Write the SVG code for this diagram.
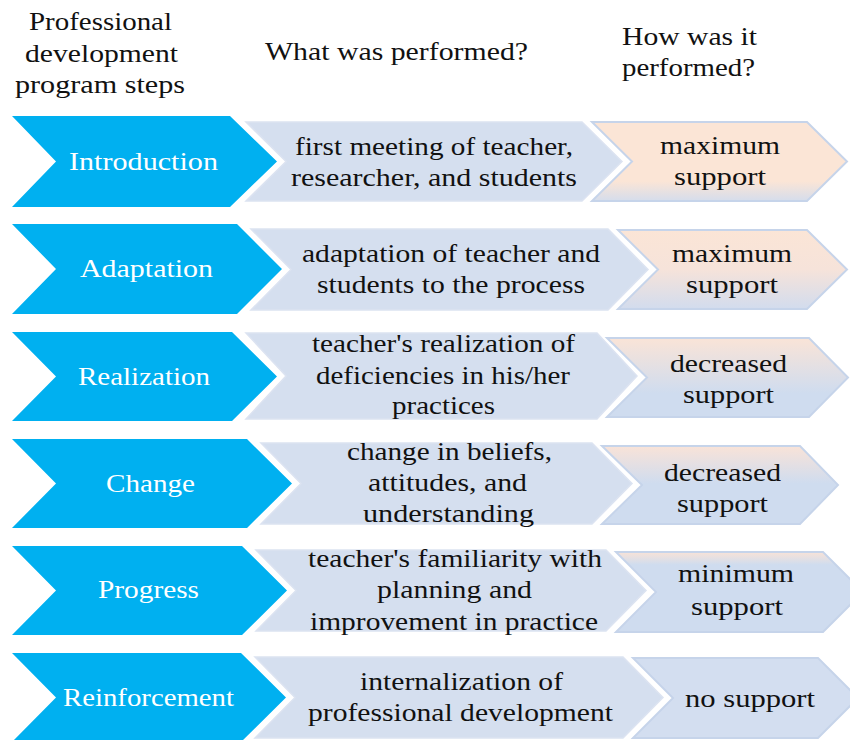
<svg xmlns="http://www.w3.org/2000/svg" width="850" height="740" viewBox="0 0 850 740">
  <defs>
    <!-- support level fills: peach fades to blue as support decreases -->
    <linearGradient id="sup1" x1="0" y1="0" x2="0" y2="1">
      <stop offset="0" stop-color="#fbe5d6"/>
      <stop offset="0.75" stop-color="#fbe5d6"/>
      <stop offset="1" stop-color="#d5ddec"/>
    </linearGradient>
    <linearGradient id="sup2" x1="0" y1="0" x2="0" y2="1">
      <stop offset="0" stop-color="#fbe5d6"/>
      <stop offset="0.5" stop-color="#f6e3da"/>
      <stop offset="1" stop-color="#d2dcee"/>
    </linearGradient>
    <linearGradient id="sup3" x1="0" y1="0" x2="0" y2="1">
      <stop offset="0" stop-color="#fae4d7"/>
      <stop offset="0.7" stop-color="#cfdcef"/>
    </linearGradient>
    <linearGradient id="sup4" x1="0" y1="0" x2="0" y2="1">
      <stop offset="0" stop-color="#f9e3d8"/>
      <stop offset="0.48" stop-color="#cfdcef"/>
    </linearGradient>
    <linearGradient id="sup5" x1="0" y1="0" x2="0" y2="1">
      <stop offset="0" stop-color="#f9e3d7"/>
      <stop offset="0.16" stop-color="#cfdcef"/>
    </linearGradient>
  </defs>
  <style>
    .step { fill: #00b0f0; }
    .task { fill: #d5dfef; stroke: #dce3f1; stroke-width: 1.5; }
    .sup  { stroke: #c6d4ea; stroke-width: 2; }
    text  { font-family: "Liberation Serif", "Times New Roman", serif; font-size: 26px; }
    .w { fill: #ffffff; }
    .k { fill: #111111; }
  </style>

  <rect width="850" height="740" fill="#ffffff"/>

  <!-- column headings -->
  <g id="headings">
    <text class="k" x="29" y="30" textLength="143" lengthAdjust="spacingAndGlyphs">Professional</text>
    <text class="k" x="25" y="62" textLength="153" lengthAdjust="spacingAndGlyphs">development</text>
    <text class="k" x="15" y="93" textLength="170" lengthAdjust="spacingAndGlyphs">program steps</text>
    <text class="k" x="265" y="60" textLength="263" lengthAdjust="spacingAndGlyphs">What was performed?</text>
    <text class="k" x="622" y="45" textLength="135" lengthAdjust="spacingAndGlyphs">How was it</text>
    <text class="k" x="622" y="76" textLength="133" lengthAdjust="spacingAndGlyphs">performed?</text>
  </g>

  <!-- row 1 -->
  <g id="step-introduction">
    <path class="step" d="M12,116 H230 L277,161.5 L230,207 H12 L56,161.5 Z"/>
    <text class="w" x="69" y="170" textLength="149" lengthAdjust="spacingAndGlyphs">Introduction</text>
  </g>
  <g id="task-introduction">
    <path class="task" d="M246,122 H582 L622,161.5 L582,201 H246 L286,161.5 Z"/>
    <text class="k" x="295" y="155" textLength="278" lengthAdjust="spacingAndGlyphs">first meeting of teacher,</text>
    <text class="k" x="291" y="186" textLength="286" lengthAdjust="spacingAndGlyphs">researcher, and students</text>
  </g>
  <g id="support-introduction">
    <path class="sup" fill="url(#sup1)" d="M592,122 H807 L847,161.5 L807,201 H592 L632,161.5 Z"/>
    <text class="k" x="660" y="154" textLength="120" lengthAdjust="spacingAndGlyphs">maximum</text>
    <text class="k" x="674" y="185" textLength="92" lengthAdjust="spacingAndGlyphs">support</text>
  </g>

  <!-- row 2 -->
  <g id="step-adaptation">
    <path class="step" d="M12,224 H237 L282,269 L237,314 H12 L56,269 Z"/>
    <text class="w" x="80" y="277" textLength="133" lengthAdjust="spacingAndGlyphs">Adaptation</text>
  </g>
  <g id="task-adaptation">
    <path class="task" d="M251,229 H608 L648,269.5 L608,310 H251 L291,269.5 Z"/>
    <text class="k" x="302" y="262" textLength="298" lengthAdjust="spacingAndGlyphs">adaptation of teacher and</text>
    <text class="k" x="317" y="293" textLength="268" lengthAdjust="spacingAndGlyphs">students to the process</text>
  </g>
  <g id="support-adaptation">
    <path class="sup" fill="url(#sup2)" d="M618,230 H807 L847,269.5 L807,309 H618 L658,269.5 Z"/>
    <text class="k" x="672" y="262" textLength="120" lengthAdjust="spacingAndGlyphs">maximum</text>
    <text class="k" x="686" y="293" textLength="92" lengthAdjust="spacingAndGlyphs">support</text>
  </g>

  <!-- row 3 -->
  <g id="step-realization">
    <path class="step" d="M12,332 H232 L277,376.5 L232,421 H12 L56,376.5 Z"/>
    <text class="w" x="78" y="385" textLength="132" lengthAdjust="spacingAndGlyphs">Realization</text>
  </g>
  <g id="task-realization">
    <path class="task" d="M246,333 H597 L637,376 L597,419 H246 L286,376 Z"/>
    <text class="k" x="312" y="352" textLength="263" lengthAdjust="spacingAndGlyphs">teacher's realization of</text>
    <text class="k" x="316" y="383.5" textLength="254" lengthAdjust="spacingAndGlyphs">deficiencies in his/her</text>
    <text class="k" x="392" y="414" textLength="103" lengthAdjust="spacingAndGlyphs">practices</text>
  </g>
  <g id="support-realization">
    <path class="sup" fill="url(#sup3)" d="M607,338 H809 L848,377.5 L809,417 H607 L647,377.5 Z"/>
    <text class="k" x="670" y="372" textLength="117" lengthAdjust="spacingAndGlyphs">decreased</text>
    <text class="k" x="683" y="403" textLength="91" lengthAdjust="spacingAndGlyphs">support</text>
  </g>

  <!-- row 4 -->
  <g id="step-change">
    <path class="step" d="M12,439 H247 L292,483.5 L247,528 H12 L56,483.5 Z"/>
    <text class="w" x="106" y="492" textLength="89" lengthAdjust="spacingAndGlyphs">Change</text>
  </g>
  <g id="task-change">
    <path class="task" d="M261,443 H592 L632,483.5 L592,524 H261 L301,483.5 Z"/>
    <text class="k" x="347" y="460" textLength="205" lengthAdjust="spacingAndGlyphs">change in beliefs,</text>
    <text class="k" x="368" y="491" textLength="159" lengthAdjust="spacingAndGlyphs">attitudes, and</text>
    <text class="k" x="363" y="522" textLength="171" lengthAdjust="spacingAndGlyphs">understanding</text>
  </g>
  <g id="support-change">
    <path class="sup" fill="url(#sup4)" d="M602,446 H800 L838,485 L800,524 H602 L642,485 Z"/>
    <text class="k" x="664" y="481" textLength="117" lengthAdjust="spacingAndGlyphs">decreased</text>
    <text class="k" x="677" y="512" textLength="91" lengthAdjust="spacingAndGlyphs">support</text>
  </g>

  <!-- row 5 -->
  <g id="step-progress">
    <path class="step" d="M12,546 H242 L287,590.5 L242,635 H12 L56,590.5 Z"/>
    <text class="w" x="98" y="598" textLength="101" lengthAdjust="spacingAndGlyphs">Progress</text>
  </g>
  <g id="task-progress">
    <path class="task" d="M256,550 H606 L646,590.5 L606,631 H256 L296,590.5 Z"/>
    <text class="k" x="308" y="567" textLength="294" lengthAdjust="spacingAndGlyphs">teacher's familiarity with</text>
    <text class="k" x="377" y="598" textLength="155" lengthAdjust="spacingAndGlyphs">planning and</text>
    <text class="k" x="310" y="629.5" textLength="288" lengthAdjust="spacingAndGlyphs">improvement in practice</text>
  </g>
  <g id="support-progress">
    <path class="sup" fill="url(#sup5)" d="M616,552 H823 L863,592 L823,632 H616 L656,592 Z"/>
    <text class="k" x="678" y="582" textLength="116" lengthAdjust="spacingAndGlyphs">minimum</text>
    <text class="k" x="691" y="614.5" textLength="92" lengthAdjust="spacingAndGlyphs">support</text>
  </g>

  <!-- row 6 -->
  <g id="step-reinforcement">
    <path class="step" d="M12,653 H241 L286,697.5 L241,742 H12 L56,697.5 Z"/>
    <text class="w" x="63" y="706" textLength="171" lengthAdjust="spacingAndGlyphs">Reinforcement</text>
  </g>
  <g id="task-reinforcement">
    <path class="task" d="M255,657 H623 L663,697.5 L623,738 H255 L295,697.5 Z"/>
    <text class="k" x="360" y="690" textLength="203" lengthAdjust="spacingAndGlyphs">internalization of</text>
    <text class="k" x="308" y="721" textLength="305" lengthAdjust="spacingAndGlyphs">professional development</text>
  </g>
  <g id="support-reinforcement">
    <path class="sup" fill="#d3def0" d="M633,658 H818 L858,698 L818,738 H633 L673,698 Z"/>
    <text class="k" x="685" y="707" textLength="130" lengthAdjust="spacingAndGlyphs">no support</text>
  </g>
</svg>
